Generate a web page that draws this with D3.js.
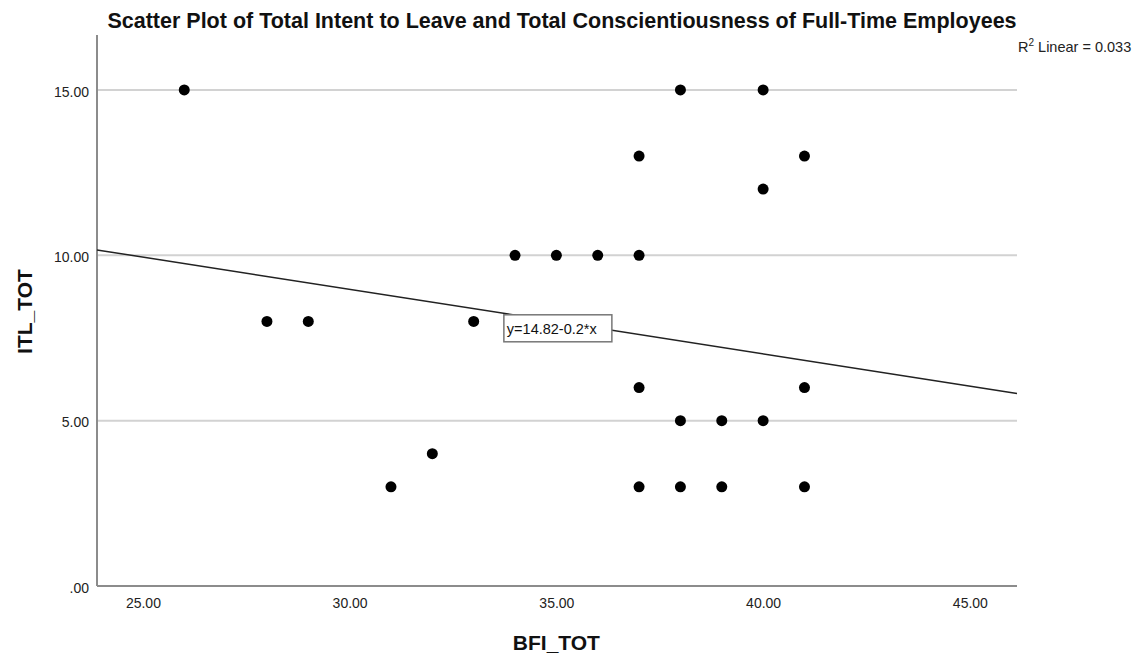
<!DOCTYPE html>
<html>
<head>
<meta charset="utf-8">
<script src="https://cdn.jsdelivr.net/npm/d3@7"></script>
<style>
  body { margin: 0; background: #fff; }
  text { font-family: "Liberation Sans", Arial, sans-serif; }
</style>
</head>
<body>
<div id="chart"></div>
<script>
// values
let bfiTot = [26, 28, 29, 31, 32, 33, 34, 35, 36, 37, 37, 37, 37, 38, 38, 38, 39, 39, 40, 40, 40, 41, 41, 41];
let itlTot = [15, 8, 8, 3, 4, 8, 10, 10, 10, 13, 10, 6, 3, 15, 5, 3, 5, 3, 15, 12, 5, 13, 6, 3];
let xTicks = [25, 30, 35, 40, 45];
let yTicks = [0, 5, 10, 15];
let fitIntercept = 14.82;
let fitSlope = -0.195;
let fitLabel = "y=14.82-0.2*x";
let r2Label = "0.033";

let width = 1144, height = 666;
let margin = { top: 35, right: 127, bottom: 80, left: 97 };
let innerW = width - margin.left - margin.right;
let innerH = height - margin.top - margin.bottom;

let svg = d3.select("#chart").append("svg")
    .attr("width", width)
    .attr("height", height);

let g = svg.append("g")
    .attr("transform", "translate(" + margin.left + "," + margin.top + ")");

let x = d3.scaleLinear().domain([23.89, 46.14]).range([0, innerW]);
let y = d3.scaleLinear().domain([0, 16.66]).range([innerH, 0]);

// gridlines
g.selectAll(".grid")
    .data(yTicks.filter(d => d > 0))
    .enter().append("line")
    .attr("class", "grid")
    .attr("x1", 0)
    .attr("x2", innerW)
    .attr("y1", d => y(d))
    .attr("y2", d => y(d))
    .attr("stroke", "#d2d2d2")
    .attr("stroke-width", 2);

// axes
let yAxis = g.append("g")
    .call(d3.axisLeft(y).tickValues(yTicks).tickSize(0).tickPadding(8)
        .tickFormat(d => d === 0 ? ".00" : d3.format(".2f")(d)));
let xAxis = g.append("g")
    .attr("transform", "translate(0," + innerH + ")")
    .call(d3.axisBottom(x).tickValues(xTicks).tickSize(0).tickPadding(12)
        .tickFormat(d3.format(".2f")));
[xAxis, yAxis].forEach(a => {
    a.select(".domain").remove();
    a.selectAll("text")
        .attr("fill", "#222")
        .style("font-size", "14px")
        .style("font-family", "'Liberation Sans', Arial, sans-serif");
});
yAxis.selectAll("text").attr("dy", "0.45em");

g.append("line")
    .attr("x1", 0).attr("x2", 0)
    .attr("y1", 0).attr("y2", innerH)
    .attr("stroke", "#8c8c8c").attr("stroke-width", 2);
g.append("line")
    .attr("x1", 0).attr("x2", innerW)
    .attr("y1", innerH).attr("y2", innerH)
    .attr("stroke", "#8c8c8c").attr("stroke-width", 2);

// fit line
let x0 = x.domain()[0], x1 = x.domain()[1];
g.append("line")
    .attr("x1", x(x0)).attr("y1", y(fitIntercept + fitSlope * x0))
    .attr("x2", x(x1)).attr("y2", y(fitIntercept + fitSlope * x1))
    .attr("stroke", "#222")
    .attr("stroke-width", 1.5);

// points
g.selectAll(".dot")
    .data(bfiTot.map((d, i) => ({ x: d, y: itlTot[i] })))
    .enter().append("circle")
    .attr("class", "dot")
    .attr("cx", d => x(d.x))
    .attr("cy", d => y(d.y))
    .attr("r", 5.5)
    .attr("fill", "#000");

// fit label box
let lbl = g.append("g")
    .attr("transform", "translate(" + x(33.73) + "," + y(8.2) + ")");
lbl.append("rect")
    .attr("width", 108).attr("height", 27)
    .attr("fill", "#fff")
    .attr("stroke", "#777").attr("stroke-width", 1.5);
lbl.append("text")
    .attr("x", 3).attr("y", 19)
    .style("font-size", "14.5px")
    .attr("fill", "#111")
    .text(fitLabel);

// title
svg.append("text")
    .attr("x", 562).attr("y", 28)
    .attr("text-anchor", "middle")
    .style("font-size", "21.5px").style("font-weight", "bold")
    .attr("fill", "#111")
    .text("Scatter Plot of Total Intent to Leave and Total Conscientiousness of Full-Time Employees");

// R2 label
let r2 = svg.append("text")
    .attr("x", 1018).attr("y", 52)
    .style("font-size", "14.5px")
    .attr("fill", "#222");
r2.append("tspan").text("R");
r2.append("tspan").attr("dy", -6).style("font-size", "10px").text("2");
r2.append("tspan").attr("dy", 6).text(" Linear = " + r2Label);

// axis titles
svg.append("text")
    .attr("x", margin.left + x(35)).attr("y", 650)
    .attr("text-anchor", "middle")
    .style("font-size", "21px").style("font-weight", "bold")
    .attr("fill", "#111")
    .text("BFI_TOT");
svg.append("text")
    .attr("transform", "translate(32," + (margin.top + y(8.3)) + ") rotate(-90)")
    .attr("text-anchor", "middle")
    .style("font-size", "21px").style("font-weight", "bold")
    .attr("fill", "#111")
    .text("ITL_TOT");
</script>
</body>
</html>
